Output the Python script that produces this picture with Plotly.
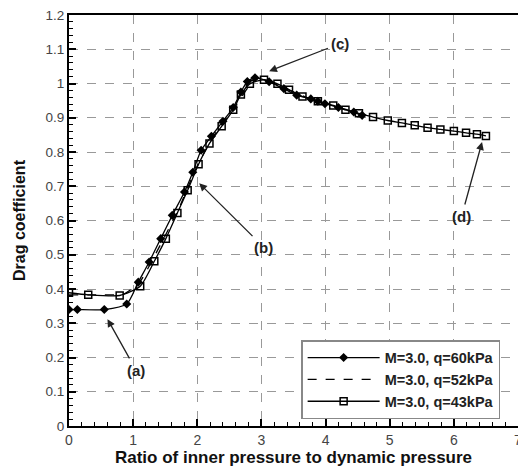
import plotly.graph_objects as go

# Series q=60kPa (filled diamonds)
x_q60 = [0, 0.13, 0.55, 0.9, 1.08, 1.25, 1.43, 1.61, 1.80, 1.93, 2.06, 2.22, 2.40, 2.56, 2.68, 2.78, 2.90,
         3.12, 3.35, 3.55, 3.77, 3.88, 3.99, 4.2, 4.44, 4.57]
y_q60 = [0.34, 0.34, 0.34, 0.356, 0.42, 0.479, 0.547, 0.615, 0.683, 0.741, 0.805, 0.846, 0.89, 0.93, 0.975, 1.006, 1.017,
         1.005, 0.985, 0.966, 0.955, 0.948, 0.941, 0.93, 0.917, 0.907]

# Series q=52kPa (dashed, no markers)
x_q52 = [0, 0.5, 0.85, 1.1, 1.4, 1.7, 2.0, 2.3, 2.6, 2.8, 2.95, 3.2, 3.5, 3.8, 4.1, 4.4, 4.6]
y_q52 = [0.383, 0.383, 0.385, 0.42, 0.52, 0.63, 0.76, 0.86, 0.935, 0.99, 1.015, 1.0, 0.975, 0.953, 0.935, 0.918, 0.905]

# Series q=43kPa (open squares)
x_q43 = [0, 0.3, 0.79, 1.11, 1.33, 1.51, 1.69, 1.85, 2.02, 2.19, 2.38, 2.56, 2.68, 2.82, 3.04, 3.25, 3.43, 3.64, 3.88,
         4.12, 4.31, 4.52, 4.74, 4.97, 5.19, 5.39, 5.59, 5.79, 6.0, 6.19, 6.36, 6.5]
y_q43 = [0.389, 0.383, 0.381, 0.408, 0.481, 0.547, 0.622, 0.688, 0.764, 0.825, 0.875, 0.923, 0.968, 0.999, 1.011, 0.999,
         0.982, 0.962, 0.948, 0.936, 0.923, 0.913, 0.902, 0.892, 0.885, 0.878, 0.871, 0.866, 0.861, 0.856, 0.852, 0.847]

series_names = ["M=3.0, q=60kPa", "M=3.0, q=52kPa", "M=3.0, q=43kPa"]

# Annotation labels: (text, head x, head y, text x, text y)
labels = ["(a)", "(b)", "(c)", "(d)"]
label_head_x = [0.60, 2.03, 3.12, 6.44]
label_head_y = [0.312, 0.709, 1.036, 0.829]
label_text_x = [1.045, 3.04, 4.23, 6.12]
label_text_y = [0.163, 0.521, 1.117, 0.612]

x_ticks = [0, 1, 2, 3, 4, 5, 6, 7]
y_ticks = [0, 0.1, 0.2, 0.3, 0.4, 0.5, 0.6, 0.7, 0.8, 0.9, 1, 1.1, 1.2]
y_tick_text = ["0", "0.1", "0.2", "0.3", "0.4", "0.5", "0.6", "0.7", "0.8", "0.9", "1", "1.1", "1.2"]

fig = go.Figure()
fig.add_trace(go.Scatter(
    x=x_q60, y=y_q60, name=series_names[0], mode="lines+markers",
    line=dict(color="black", width=1.3, shape="spline", smoothing=0.6),
    marker=dict(symbol="diamond", size=7, color="black")))
fig.add_trace(go.Scatter(
    x=x_q52, y=y_q52, name=series_names[1], mode="lines",
    line=dict(color="black", width=1.3, dash="dash", shape="spline", smoothing=0.6)))
fig.add_trace(go.Scatter(
    x=x_q43, y=y_q43, name=series_names[2], mode="lines+markers",
    line=dict(color="black", width=1.3, shape="spline", smoothing=0.6),
    marker=dict(symbol="square-open", size=7, color="black", line=dict(width=1.5))))

for t, hx, hy, tx, ty in zip(labels, label_head_x, label_head_y, label_text_x, label_text_y):
    fig.add_annotation(x=hx, y=hy, ax=tx, ay=ty, xref="x", yref="y", axref="x", ayref="y",
                       text="<b>%s</b>" % t, showarrow=True, arrowhead=2, arrowsize=1.2,
                       arrowwidth=1.3, arrowcolor="#222", standoff=0, startstandoff=2,
                       font=dict(family="Liberation Sans, Arial", size=15, color="#222"))

# The page body adds an 8px offset; size the figure so the plot area lands where the reference has it.
fig.update_layout(
    width=518, height=461,
    margin=dict(l=61, r=8, t=7, b=43),
    paper_bgcolor="white", plot_bgcolor="white",
    font=dict(family="Liberation Sans, Arial", size=13, color="#333"),
    showlegend=True,
    legend=dict(x=0.517, y=0.209, xanchor="left", yanchor="top",
                bordercolor="#888", borderwidth=1.5, bgcolor="white",
                itemwidth=72, tracegroupgap=0,
                font=dict(family="Liberation Sans, Arial", size=14.5, color="#222", weight="bold")),
    xaxis=dict(range=[0, 7], tickvals=x_ticks, ticks="inside", ticklen=7, tickwidth=2, tickcolor="black",
               showline=True, linecolor="black", linewidth=2, mirror=True, automargin=False,
               ticklabeloverflow="allow",
               showgrid=True, gridcolor="#999", griddash="dash", gridwidth=1, zeroline=False,
               minor=dict(dtick=0.2, ticks="inside", ticklen=4, tickcolor="black", tickwidth=1, showgrid=False),
               tickfont=dict(size=14, color="#444"),
               title=dict(text="<b>Ratio of inner pressure to dynamic pressure</b>", standoff=1,
                          font=dict(size=17, color="#111"))),
    yaxis=dict(range=[0, 1.2], tickvals=y_ticks, ticktext=y_tick_text, ticks="inside", ticklen=7, tickwidth=2,
               tickcolor="black", automargin=False, ticklabeloverflow="allow",
               showline=True, linecolor="black", linewidth=2, mirror=True,
               showgrid=True, gridcolor="#999", griddash="dash", gridwidth=1, zeroline=False,
               minor=dict(dtick=0.02, ticks="inside", ticklen=4, tickcolor="black", tickwidth=1, showgrid=False),
               tickfont=dict(size=13.5, color="#444"),
               title=dict(text="<b>Drag coefficient</b>", standoff=16, font=dict(size=16, color="#111"))),
)

fig.write_html("out.html")
